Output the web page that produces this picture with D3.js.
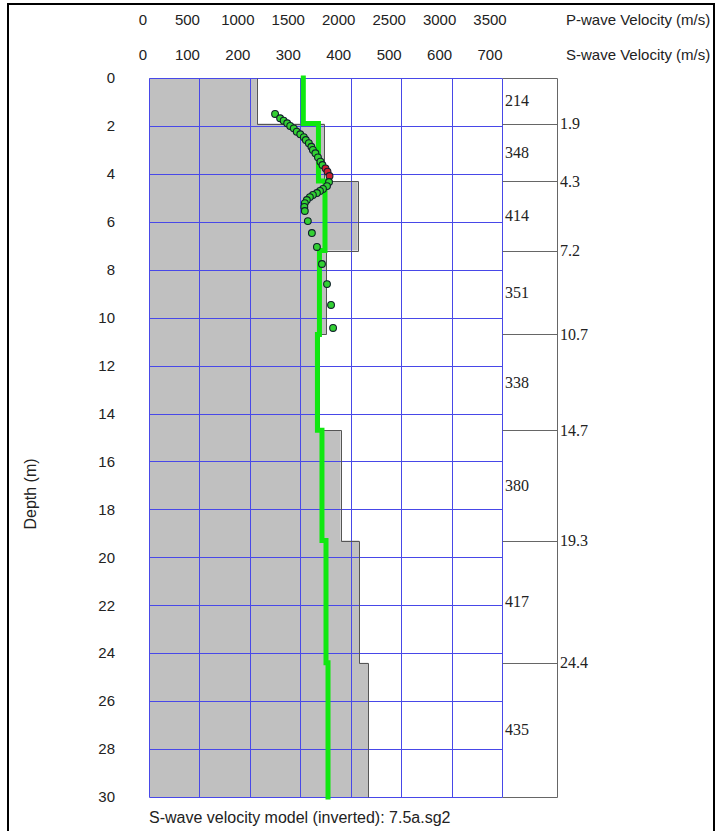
<!DOCTYPE html>
<html>
<head>
<meta charset="utf-8">
<script src="https://cdn.jsdelivr.net/npm/d3@7"></script>
<style>
  html, body { margin: 0; padding: 0; background: #fff; }
  svg { display: block; }
</style>
</head>
<body>
<svg id="chart" width="722" height="831"></svg>
<script>
// Layered velocity model: layer boundaries (m), S-wave and P-wave velocities (m/s)
const layerTops = [0, 1.9, 4.3, 7.2, 10.7, 14.7, 19.3, 24.4];
const layerBottoms = [1.9, 4.3, 7.2, 10.7, 14.7, 19.3, 24.4, 30];
const vsValues = [214, 348, 414, 351, 338, 380, 417, 435];
const vpValues = [1530, 1680, 1745, 1690, 1670, 1715, 1755, 1775];
const boundaryLabels = ["1.9", "4.3", "7.2", "10.7", "14.7", "19.3", "24.4"];

// Dispersion curve points: phase velocity (m/s) vs pseudo-depth (m)
const dispVelocity = [250, 260, 267, 274, 280, 287, 293, 300, 307, 311, 317, 322, 325, 330, 335, 340, 344,
  350, 354, 358,
  357, 353, 345, 339, 333, 325, 319, 313, 309, 308, 309, 315, 323, 333, 343, 353, 361, 365];
const dispDepth = [1.50, 1.68, 1.78, 1.89, 2.00, 2.10, 2.24, 2.35, 2.47, 2.59, 2.72, 2.87, 3.00, 3.14, 3.31, 3.49, 3.63,
  3.77, 3.91, 4.09,
  4.34, 4.51, 4.63, 4.71, 4.80, 4.88, 4.97, 5.09, 5.22, 5.38, 5.55, 5.97, 6.47, 7.05, 7.76, 8.60, 9.47, 10.43];
const dispMasked = [false, false, false, false, false, false, false, false, false, false, false, false, false, false, false, false, false,
  true, true, true,
  false, false, false, false, false, false, false, false, false, false, false, false, false, false, false, false, false, false];

const vpTicks = [0, 500, 1000, 1500, 2000, 2500, 3000, 3500];
const vsTicks = [0, 100, 200, 300, 400, 500, 600, 700];
const depthTicks = [0, 2, 4, 6, 8, 10, 12, 14, 16, 18, 20, 22, 24, 26, 28, 30];

const svg = d3.select("#chart");
const sans = "Liberation Sans, Arial, sans-serif";
const serif = "Liberation Serif, Times New Roman, serif";

const xS = d3.scaleLinear().domain([0, 700]).range([149, 502]);
const xP = d3.scaleLinear().domain([0, 3500]).range([149, 502]);
const y = d3.scaleLinear().domain([0, 30]).range([78, 797]);
const boxRight = 557;
const crisp = v => Math.round(v) + 0.5;

// outer frame
svg.append("rect").attr("x", 8).attr("y", 4).attr("width", 706).attr("height", 840)
  .attr("fill", "none").attr("stroke", "#000").attr("stroke-width", 2);

const layers = vsValues.map((vs, i) => ({ top: layerTops[i], bottom: layerBottoms[i], vs, vp: vpValues[i] }));

// S-wave step profile, filled grey
const stepPts = [[xS(0), y(0)]];
layers.forEach(l => { stepPts.push([xS(l.vs), y(l.top)]); stepPts.push([xS(l.vs), y(l.bottom)]); });
stepPts.push([xS(0), y(30)]);
svg.append("path").attr("d", d3.line()(stepPts) + "Z").attr("fill", "#c0c0c0").attr("stroke", "none");

// blue grid
const grid = svg.append("g").attr("stroke", "#4848e8").attr("stroke-width", 1);
vsTicks.forEach(t => grid.append("line").attr("x1", crisp(xS(t))).attr("x2", crisp(xS(t))).attr("y1", crisp(y(0))).attr("y2", crisp(y(30))));
depthTicks.forEach(t => grid.append("line").attr("x1", crisp(xS(0))).attr("x2", crisp(xS(700))).attr("y1", crisp(y(t))).attr("y2", crisp(y(t))));

// outline of the grey profile
const outline = [];
layers.forEach(l => { outline.push([crisp(xS(l.vs)), crisp(y(l.top))]); outline.push([crisp(xS(l.vs)), crisp(y(l.bottom))]); });
svg.append("path").attr("d", d3.line()(outline)).attr("fill", "none").attr("stroke", "#555").attr("stroke-width", 1);

// layer box on the right
const box = svg.append("g").attr("stroke", "#666").attr("stroke-width", 1);
box.append("line").attr("x1", crisp(boxRight)).attr("x2", crisp(boxRight)).attr("y1", crisp(y(0))).attr("y2", crisp(y(30)));
[0].concat(layerBottoms).forEach(d => box.append("line").attr("x1", crisp(xS(700))).attr("x2", crisp(boxRight)).attr("y1", crisp(y(d))).attr("y2", crisp(y(d))));

// layer velocity labels
svg.append("g").selectAll("text").data(layers).join("text")
  .attr("x", xS(700) + 3).attr("y", d => y((d.top + d.bottom) / 2)).attr("dy", "0.35em")
  .attr("font-family", serif).attr("font-size", 16).attr("fill", "#222")
  .text(d => d.vs);

// boundary depth labels
svg.append("g").selectAll("text").data(boundaryLabels).join("text")
  .attr("x", boxRight + 3).attr("y", d => y(+d)).attr("dy", "0.35em")
  .attr("font-family", serif).attr("font-size", 16).attr("fill", "#222")
  .text(d => d);

// P-wave velocity model (green line)
const vpPts = [];
layers.forEach(l => { vpPts.push([xP(l.vp), y(l.top)]); vpPts.push([xP(l.vp), y(l.bottom)]); });
svg.append("path").attr("d", d3.line()(vpPts)).attr("fill", "none")
  .attr("stroke", "#10e810").attr("stroke-width", 5).attr("stroke-linecap", "square").attr("stroke-linejoin", "miter");

// dispersion points
const pts = dispVelocity.map((v, i) => ({ v, d: dispDepth[i], m: dispMasked[i] }));
svg.append("g").selectAll("circle").data(pts).join("circle")
  .attr("cx", d => xS(d.v)).attr("cy", d => y(d.d)).attr("r", 3.4)
  .attr("fill", d => d.m ? "#d02030" : "#33d033").attr("stroke", "#10202a").attr("stroke-width", 1.1);

// top velocity scales
const topAxis = svg.append("g").attr("font-family", sans).attr("font-size", 15).attr("fill", "#222");
vpTicks.forEach(t => topAxis.append("text").attr("x", xP(t) - (t === 0 ? 6 : 12)).attr("y", 25).attr("text-anchor", "middle").text(t));
vsTicks.forEach(t => topAxis.append("text").attr("x", xS(t) - (t === 0 ? 6 : 12)).attr("y", 60).attr("text-anchor", "middle").text(t));
topAxis.append("text").attr("x", 566).attr("y", 25).text("P-wave Velocity (m/s)");
topAxis.append("text").attr("x", 566).attr("y", 60).text("S-wave Velocity (m/s)");

// depth axis labels
const leftAxis = svg.append("g").attr("font-family", sans).attr("font-size", 15).attr("fill", "#222");
depthTicks.forEach(t => leftAxis.append("text").attr("x", 115).attr("y", y(t)).attr("dy", "0.35em").attr("text-anchor", "end").text(t));
leftAxis.append("text").attr("font-size", 16).attr("transform", "translate(36,494) rotate(-90)").attr("text-anchor", "middle").text("Depth (m)");

// caption
svg.append("text").attr("x", 149).attr("y", 823).attr("font-family", sans).attr("font-size", 16).attr("fill", "#222")
  .text("S-wave velocity model (inverted): 7.5a.sg2");
</script>
</body>
</html>
